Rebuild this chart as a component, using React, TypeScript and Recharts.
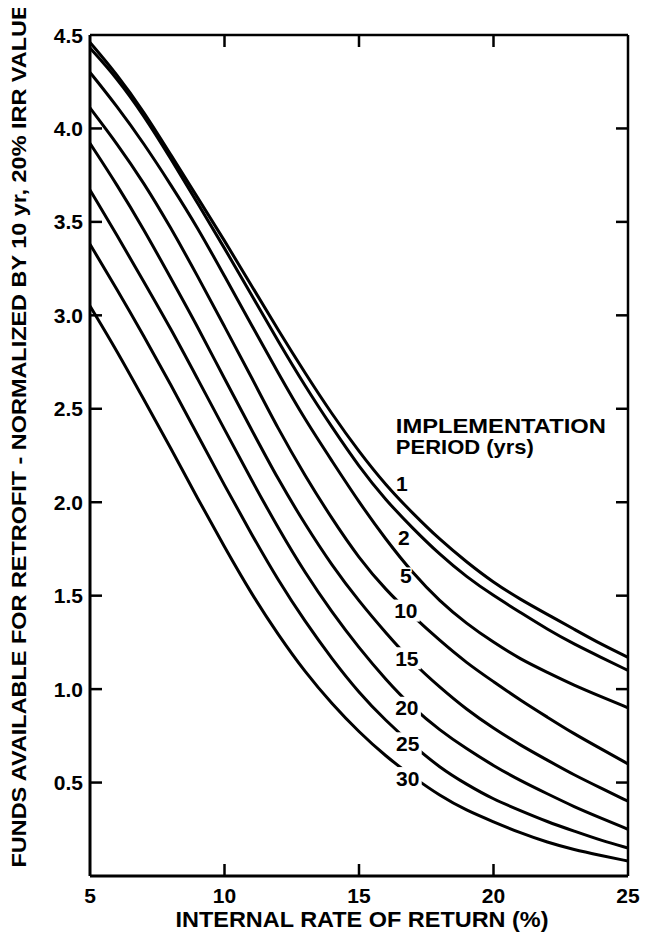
import React from 'react';
import { LineChart, Line, XAxis, YAxis, ReferenceDot, ReferenceLine, Label } from 'recharts';

// Internal rate of return (%), sampled once per percent
const irr = [5, 6, 7, 8, 9, 10, 11, 12, 13, 14, 15, 16, 17, 18, 19, 20, 21, 22, 23, 24, 25];

// Normalized funds available for retrofit, one list per implementation period
const period1 = [4.46, 4.29, 4.09, 3.86, 3.63, 3.40, 3.16, 2.92, 2.69, 2.47, 2.27, 2.09, 1.94, 1.80, 1.68, 1.57, 1.48, 1.40, 1.32, 1.24, 1.17];
const period2 = [4.43, 4.27, 4.07, 3.84, 3.60, 3.36, 3.11, 2.86, 2.62, 2.40, 2.19, 2.01, 1.86, 1.72, 1.60, 1.50, 1.41, 1.32, 1.24, 1.17, 1.10];
const period5 = [4.30, 4.12, 3.92, 3.70, 3.47, 3.21, 2.95, 2.69, 2.44, 2.22, 2.00, 1.80, 1.62, 1.47, 1.35, 1.25, 1.16, 1.09, 1.02, 0.96, 0.90];
const period10 = [4.11, 3.92, 3.71, 3.47, 3.21, 2.94, 2.67, 2.39, 2.14, 1.91, 1.70, 1.53, 1.39, 1.26, 1.14, 1.04, 0.94, 0.85, 0.76, 0.68, 0.60];
const period15 = [3.92, 3.70, 3.46, 3.20, 2.94, 2.66, 2.39, 2.12, 1.88, 1.66, 1.47, 1.30, 1.14, 1.01, 0.89, 0.79, 0.70, 0.62, 0.54, 0.47, 0.40];
const period20 = [3.67, 3.43, 3.18, 2.93, 2.66, 2.39, 2.12, 1.86, 1.62, 1.41, 1.22, 1.05, 0.90, 0.78, 0.68, 0.59, 0.51, 0.44, 0.37, 0.31, 0.25];
const period25 = [3.38, 3.14, 2.89, 2.63, 2.36, 2.09, 1.83, 1.58, 1.36, 1.16, 0.98, 0.83, 0.70, 0.58, 0.49, 0.41, 0.35, 0.29, 0.24, 0.19, 0.15];
const period30 = [3.05, 2.81, 2.55, 2.29, 2.02, 1.76, 1.51, 1.29, 1.09, 0.92, 0.77, 0.64, 0.53, 0.43, 0.35, 0.29, 0.23, 0.18, 0.14, 0.11, 0.08];

// Curve labels (years) and where each label sits, in data units
const periodNames = ['1', '2', '5', '10', '15', '20', '25', '30'];
const labelIrr = [16.59, 16.67, 16.74, 16.74, 16.78, 16.78, 16.81, 16.81];
const labelValue = [2.10, 1.81, 1.61, 1.42, 1.165, 0.90, 0.71, 0.524];
const labelBreaksLine = [false, false, false, true, true, true, true, true];

const xTicks = [5, 10, 15, 20, 25];
const yTicks = [0.5, 1.0, 1.5, 2.0, 2.5, 3.0, 3.5, 4.0, 4.5];

const seriesLists = [period1, period2, period5, period10, period15, period20, period25, period30];
const seriesKeys = seriesLists.map((_, i) => `p${periodNames[i]}`);

const data = irr.map((x, i) => {
  const row: Record<string, number> = { irr: x };
  seriesLists.forEach((list, s) => {
    row[seriesKeys[s]] = list[i];
  });
  return row;
});

const FONT = '"Liberation Sans", Arial, Helvetica, sans-serif';
const INK = '#000';

// Plot frame in SVG coordinates
const W = 640;
const H = 932;
const PLOT = { left: 82, top: 27, right: 620, bottom: 868 };
const TICK_LEN = 12;

const XTick = (props: any) => {
  const { x, payload } = props;
  const v = payload.value;
  const inner = v > 5 && v < 25;
  return (
    <g>
      {inner && (
        <>
          <line x1={x} x2={x} y1={PLOT.bottom} y2={PLOT.bottom - TICK_LEN} stroke={INK} strokeWidth={2.5} />
          <line x1={x} x2={x} y1={PLOT.top} y2={PLOT.top + TICK_LEN} stroke={INK} strokeWidth={2.5} />
        </>
      )}
      <text x={x} y={PLOT.bottom + 27} textAnchor="middle" fontFamily={FONT} fontWeight={700} fontSize={21} fill={INK}>
        {v}
      </text>
    </g>
  );
};

const YTick = (props: any) => {
  const { y, payload } = props;
  const v = payload.value;
  return (
    <g>
      {v < 4.5 && (
        <>
          <line x1={PLOT.left} x2={PLOT.left + TICK_LEN} y1={y} y2={y} stroke={INK} strokeWidth={2.5} />
          <line x1={PLOT.right - TICK_LEN} x2={PLOT.right} y1={y} y2={y} stroke={INK} strokeWidth={2.5} />
        </>
      )}
      <text x={PLOT.left - 7} y={y} dy="0.36em" textAnchor="end" fontFamily={FONT} fontWeight={700} fontSize={21} fill={INK}>
        {v.toFixed(1)}
      </text>
    </g>
  );
};

const makeCurveLabel = (i: number) => (p: any) => {
  const { cx, cy } = p;
  const name = periodNames[i];
  const w = name.length === 1 ? 14 : 28;
  return (
    <g>
      {labelBreaksLine[i] && <rect x={cx - w / 2} y={cy - 11} width={w} height={22} fill="#fff" />}
      <text
        x={cx}
        y={cy}
        dy="0.36em"
        textAnchor="middle"
        fontFamily={FONT}
        fontWeight={700}
        fontSize={21}
        fill={INK}
        stroke="#fff"
        strokeWidth={3}
        paintOrder="stroke"
      >
        {name}
      </text>
    </g>
  );
};

const Heading = (p: any) => {
  const { cx, cy } = p;
  return (
    <g>
      <text x={cx} y={cy} fontFamily={FONT} fontWeight={700} fontSize={21} fill={INK} textLength={210} lengthAdjust="spacingAndGlyphs">
        IMPLEMENTATION
      </text>
      <text x={cx} y={cy + 21} fontFamily={FONT} fontWeight={700} fontSize={21} fill={INK} textLength={138} lengthAdjust="spacingAndGlyphs">
        PERIOD (yrs)
      </text>
    </g>
  );
};

export default function App() {
  return (
    <div style={{ width: W, height: H, background: '#fff' }}>
      <LineChart
        width={W}
        height={H}
        data={data}
        margin={{ top: PLOT.top, right: W - PLOT.right, bottom: 24, left: 12 }}
        style={{ fontFamily: FONT }}
      >
        <XAxis
          dataKey="irr"
          type="number"
          domain={[5, 25]}
          ticks={xTicks}
          allowDataOverflow
          height={H - PLOT.bottom - 24}
          axisLine={{ stroke: INK, strokeWidth: 3 }}
          tickLine={false}
          tickSize={0}
          tick={<XTick />}
          interval={0}
        >
          <Label
            content={() => (
              <text
                x={354}
                y={919}
                textAnchor="middle"
                fontFamily={FONT}
                fontWeight={700}
                fontSize={22}
                fill={INK}
                textLength={373}
                lengthAdjust="spacingAndGlyphs"
              >
                INTERNAL RATE OF RETURN (%)
              </text>
            )}
          />
        </XAxis>
        <YAxis
          type="number"
          domain={[0, 4.5]}
          ticks={yTicks}
          allowDataOverflow
          width={PLOT.left - 12}
          axisLine={{ stroke: INK, strokeWidth: 3 }}
          tickLine={false}
          tickSize={0}
          tick={<YTick />}
          interval={0}
        >
          <Label
            content={() => (
              <text
                x={10}
                y={428}
                transform="rotate(-90 10 428)"
                dy="0.36em"
                textAnchor="middle"
                fontFamily={FONT}
                fontWeight={700}
                fontSize={21}
                fill={INK}
                textLength={863}
                lengthAdjust="spacingAndGlyphs"
              >
                FUNDS AVAILABLE FOR RETROFIT - NORMALIZED BY 10 yr, 20% IRR VALUE
              </text>
            )}
          />
        </YAxis>

        <ReferenceLine y={4.5} stroke={INK} strokeWidth={2.5} ifOverflow="visible" />
        <ReferenceLine x={25} stroke={INK} strokeWidth={2.5} ifOverflow="visible" />

        {seriesKeys.map((k) => (
          <Line
            key={k}
            dataKey={k}
            type="basis"
            stroke={INK}
            strokeWidth={3}
            dot={false}
            activeDot={false}
            isAnimationActive={false}
          />
        ))}

        {periodNames.map((n, i) => (
          <ReferenceDot
            key={`lbl-${n}`}
            x={labelIrr[i]}
            y={labelValue[i]}
            r={0}
            ifOverflow="visible"
            shape={makeCurveLabel(i)}
          />
        ))}

        <ReferenceDot x={16.37} y={2.373} r={0} ifOverflow="visible" shape={Heading} />
      </LineChart>
    </div>
  );
}
